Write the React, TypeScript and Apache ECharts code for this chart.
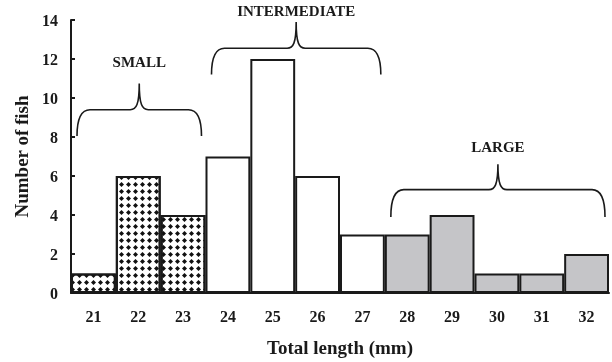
import React, { useEffect, useRef } from "react";
import * as echarts from "echarts";

const lengths = ["21", "22", "23", "24", "25", "26", "27", "28", "29", "30", "31", "32"];
const fishCounts = [1, 6, 4, 7, 12, 6, 3, 3, 4, 1, 1, 2];
// size class of each length bin
const sizeClass = ["small", "small", "small", "mid", "mid", "mid", "mid", "large", "large", "large", "large", "large"];
const groupLabels = ["SMALL", "INTERMEDIATE", "LARGE"];
// first and last bin index of each group
const groupRanges = [[0, 2], [3, 6], [7, 11]];
// brace end level, brace bar level, cusp level, label level (in fish counts)
const braceLevels = [
  [8.05, 9.4, 10.75, 11.85],
  [11.2, 12.55, 13.9, 14.45],
  [3.9, 5.3, 6.6, 7.5],
];

const FONT = "'Liberation Serif', 'Times New Roman', serif";
const INK = "#1a1a1a";

function bracePath(x0: number, x1: number, yEnd: number, yH: number, yP: number) {
  const xm = (x0 + x1) / 2;
  const r = 13;
  return [
    `M ${x0} ${yEnd}`,
    `C ${x0} ${yH + 10} ${x0 + 4} ${yH} ${x0 + r} ${yH}`,
    `L ${xm - 9} ${yH}`,
    `C ${xm - 3} ${yH} ${xm} ${yH - 5} ${xm} ${yP}`,
    `C ${xm} ${yH - 5} ${xm + 3} ${yH} ${xm + 9} ${yH}`,
    `L ${x1 - r} ${yH}`,
    `C ${x1 - 4} ${yH} ${x1} ${yH + 10} ${x1} ${yEnd}`,
  ].join(" ");
}

export default function App() {
  const ref = useRef<HTMLDivElement>(null);

  useEffect(() => {
    if (!ref.current) return;
    const chart = echarts.init(ref.current, null, { renderer: "svg" });

    const data = fishCounts.map((v, i) => {
      const c = sizeClass[i];
      if (c === "small") {
        return {
          value: v,
          itemStyle: {
            color: "#ffffff",
            decal: {
              symbol: "diamond",
              symbolSize: 1,
              color: "#111111",
              dashArrayX: [5, 1.5],
              dashArrayY: [5, 1.5],
              rotation: 0,
            },
          },
        };
      }
      return { value: v, itemStyle: { color: c === "large" ? "#c5c5c8" : "#ffffff" } };
    });

    chart.setOption({
      animation: false,
      aria: { enabled: false, decal: { show: false } },
      grid: { left: 71, right: 3, top: 20, bottom: 68 },
      xAxis: {
        type: "category",
        data: lengths,
        name: "Total length (mm)",
        nameLocation: "middle",
        nameGap: 45,
        nameTextStyle: { fontFamily: FONT, fontWeight: "bold", fontSize: 19, color: INK },
        axisLine: { show: true, lineStyle: { color: INK, width: 2 } },
        axisTick: { show: false },
        axisLabel: { fontFamily: FONT, fontWeight: "bold", fontSize: 16, color: INK, margin: 15 },
      },
      yAxis: {
        type: "value",
        min: 0,
        max: 14,
        interval: 2,
        name: "Number of fish",
        nameLocation: "middle",
        nameRotate: 90,
        nameGap: 39,
        nameTextStyle: { fontFamily: FONT, fontWeight: "bold", fontSize: 19, color: INK },
        axisLine: { show: true, lineStyle: { color: INK, width: 2 } },
        axisTick: { show: true, inside: true, length: 4, lineStyle: { color: INK, width: 2 } },
        splitLine: { show: false },
        axisLabel: { fontFamily: FONT, fontWeight: "bold", fontSize: 16, color: INK, margin: 13 },
      },
      series: [
        {
          type: "bar",
          data,
          barCategoryGap: "0%",
          itemStyle: { borderColor: INK, borderWidth: 2 },
        },
      ],
    });

    // braces and group labels placed from the axes' own scales
    const graphics: any[] = [];
    groupRanges.forEach(([a, b], g) => {
      const left = chart.convertToPixel({ gridIndex: 0 }, [a, 0]) as number[];
      const right = chart.convertToPixel({ gridIndex: 0 }, [b, 0]) as number[];
      const leftNext = chart.convertToPixel({ gridIndex: 0 }, [a + 1, 0]) as number[];
      const half = (leftNext[0] - left[0]) / 2;
      const x0 = left[0] - half + 6;
      const x1 = right[0] + half - 4;
      const [lEnd, lH, lP, lT] = braceLevels[g];
      const yEnd = (chart.convertToPixel({ gridIndex: 0 }, [0, lEnd]) as number[])[1];
      const yH = (chart.convertToPixel({ gridIndex: 0 }, [0, lH]) as number[])[1];
      const yP = (chart.convertToPixel({ gridIndex: 0 }, [0, lP]) as number[])[1];
      const yT = (chart.convertToPixel({ gridIndex: 0 }, [0, lT]) as number[])[1];
      const name = "brace" + g;
      echarts.graphic.registerShape(name, echarts.graphic.extendPath(bracePath(x0, x1, yEnd, yH, yP), {}) as any);
      graphics.push({
        type: name,
        x: 0,
        y: 0,
        style: { fill: "none", stroke: INK, lineWidth: 1.6 },
      });
      graphics.push({
        type: "text",
        x: (x0 + x1) / 2,
        y: yT,
        style: {
          text: groupLabels[g],
          fontFamily: FONT,
          fontWeight: "bold",
          fontSize: 15,
          fill: INK,
          align: "center",
          verticalAlign: "middle",
        },
      });
    });
    chart.setOption({ graphic: graphics });

    return () => chart.dispose();
  }, []);

  return <div ref={ref} style={{ position: "fixed", left: 0, top: 0, width: 612, height: 362 }} />;
}
